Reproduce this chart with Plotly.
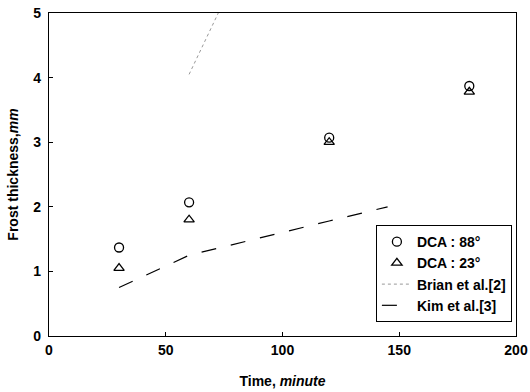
import plotly.graph_objects as go

time_pts = [30, 60, 120, 180]
dca88 = [1.37, 2.07, 3.07, 3.87]
dca23 = [1.05, 1.80, 3.00, 3.78]
brian_x = [60, 85]
brian_y = [4.05, 5.95]
kim_x = [30, 60, 120, 145]
kim_y = [0.75, 1.25, 1.78, 2.0]

font_family = "Liberation Sans, Arial, sans-serif"

fig = go.Figure()
fig.add_trace(go.Scatter(x=time_pts, y=dca88, mode="markers", name="<b>DCA : 88°</b>",
                         marker=dict(symbol="circle-open", size=9, color="black", line=dict(width=1.3))))
fig.add_trace(go.Scatter(x=time_pts, y=dca23, mode="markers", name="<b>DCA : 23°</b>",
                         marker=dict(symbol="triangle-up-open", size=9, color="black", line=dict(width=1.3))))
fig.add_trace(go.Scatter(x=brian_x, y=brian_y, mode="lines", name="<b>Brian et al.[2]</b>",
                         line=dict(color="#999999", width=1, dash="dot")))
fig.add_trace(go.Scatter(x=kim_x, y=kim_y, mode="lines", name="<b>Kim et al.[3]</b>",
                         line=dict(color="black", width=1.2, dash="longdash")))

axis_common = dict(showline=True, linecolor="black", linewidth=1.2, mirror=True,
                   ticks="inside", ticklen=4, tickcolor="black", showgrid=False, zeroline=False,
                   automargin=False, ticklabeloverflow="allow",
                   tickfont=dict(family=font_family, size=14, color="black", weight="bold"))

fig.update_layout(
    width=530, height=392,
    margin=dict(l=49, r=14, t=13, b=56),
    plot_bgcolor="white", paper_bgcolor="white",
    font=dict(family=font_family, color="black"),
    xaxis=dict(range=[0, 200], tickvals=[0, 50, 100, 150, 200], ticklabelstandoff=1,
               title=dict(text="<b>Time, <i>minute</i></b>", font=dict(size=14), standoff=19),
               **axis_common),
    yaxis=dict(range=[0, 5], tickvals=[0, 1, 2, 3, 4, 5], ticklabelstandoff=4,
               title=dict(text="<b>Frost thickness,<i>mm</i></b>", font=dict(size=14), standoff=11),
               **axis_common),
    legend=dict(x=0.70, y=0.043, xanchor="left", yanchor="bottom",
                bordercolor="black", borderwidth=1, bgcolor="white",
                font=dict(size=14, family=font_family), tracegroupgap=0,
                itemwidth=30),
    showlegend=True,
)

# remove the page's default 8px body margin so the figure fills the window exactly
fig.write_html("out.html", config={"displayModeBar": False},
               post_script="document.body.style.margin='0';")
